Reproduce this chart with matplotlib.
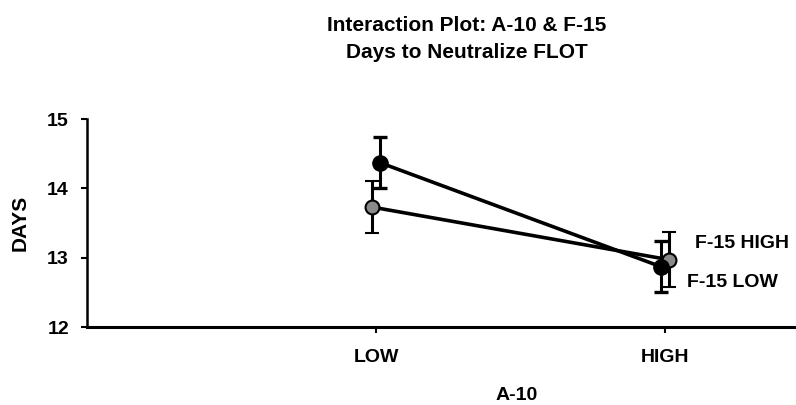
import matplotlib
matplotlib.use("Agg")
import matplotlib.pyplot as plt

plt.rcParams['font.family'] = ['Liberation Sans', 'DejaVu Sans']

categories = ["LOW", "HIGH"]
f15_low = [14.37, 12.87]
f15_low_err = [0.37, 0.37]
f15_high = [13.73, 12.97]
f15_high_err = [0.37, 0.40]
yticks = [12, 13, 14, 15]

fig = plt.figure(figsize=(7.96, 4.05), dpi=100)
ax = fig.add_axes([87/796, 78/405, 709/796, 208/405])

xpos = [1, 2]
off = 0.014
x_low = [p + off if i == 0 else p - off for i, p in enumerate(xpos)]
x_high = [p - off if i == 0 else p + off for i, p in enumerate(xpos)]

ax.errorbar(x_high, f15_high, yerr=f15_high_err, color='black', lw=2.6,
            elinewidth=2.2, capsize=5, capthick=2.4, marker='o', ms=10,
            mfc='#8a8a8a', mec='black', mew=1.5, zorder=3)
ax.errorbar(x_low, f15_low, yerr=f15_low_err, color='black', lw=2.6,
            elinewidth=2.2, capsize=5, capthick=2.4, marker='o', ms=11,
            mfc='black', mec='black', zorder=4)

ax.text(2.104, 13.20, "F-15 HIGH", fontsize=14, fontweight='bold', va='center', ha='left')
ax.text(2.076, 12.64, "F-15 LOW", fontsize=14, fontweight='bold', va='center', ha='left')

ax.set_xlim(0, 709/289)
ax.set_ylim(12, 15)
ax.set_xticks(xpos)
ax.set_xticklabels(categories, fontsize=14, fontweight='bold')
ax.set_yticks(yticks)
ax.set_yticklabels([str(t) for t in yticks], fontsize=14, fontweight='bold')
ax.tick_params(axis='both', direction='out', length=4, width=1.5)
ax.tick_params(axis='y', pad=9)
ax.tick_params(axis='x', pad=12)
for s in ['top', 'right']:
    ax.spines[s].set_visible(False)
ax.spines['left'].set_linewidth(1.8)
ax.spines['bottom'].set_linewidth(2.2)

ax.set_ylabel("DAYS", fontsize=15, fontweight='bold', labelpad=13)
ax.set_xlabel("A-10", fontsize=14, fontweight='bold', labelpad=16)
ax.xaxis.set_label_coords((517 - 87) / 709, -0.29)

fig.text(467/796, 1 - 39/405, "Interaction Plot: A-10 & F-15\nDays to Neutralize FLOT",
         ha='center', va='center', fontsize=15, fontweight='bold', linespacing=1.55)

fig.savefig("out.png", dpi=100)
